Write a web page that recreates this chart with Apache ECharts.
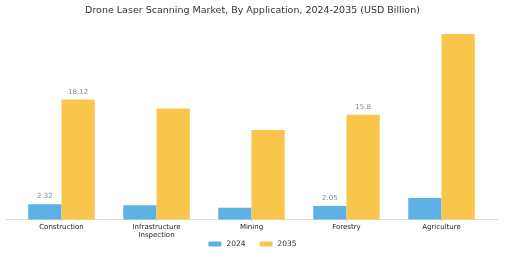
<!DOCTYPE html>
<html>
<head>
<meta charset="utf-8">
<script src="https://cdn.jsdelivr.net/npm/echarts@6/dist/echarts.min.js"></script>
<style>
  html, body { margin: 0; padding: 0; background: #fff; }
  #chart { width: 505px; height: 253px; }
</style>
</head>
<body>
<div id="chart"></div>
<script>
const categories = ['Construction', 'Infrastructure\nInspection', 'Mining', 'Forestry', 'Agriculture']
const values2024 = [2.32, 2.14, 1.78, 2.05, 3.24]
const values2035 = [18.12, 16.75, 13.5, 15.8, 28.0]
// only these bars carry a value label in the original
const labeled2024 = [0, 3]
const labeled2035 = [0, 3]

const withLabels = (vals, shown) => vals.map((v, i) => ({
  value: v,
  label: { show: shown.includes(i) }
}))

const labelStyle = {
  position: 'top',
  distance: 4,
  color: '#888',
  fontSize: 7,
  fontFamily: 'DejaVu Sans'
}

const chart = echarts.init(document.getElementById('chart'))
chart.setOption({
  animation: false,
  title: {
    text: 'Drone Laser Scanning Market, By Application, 2024-2035 (USD Billion)',
    left: 'center',
    top: 1,
    textStyle: { fontSize: 9.5, fontWeight: 'normal', color: '#333', fontFamily: 'DejaVu Sans' }
  },
  legend: {
    top: 235,
    left: 'center',
    itemWidth: 13,
    itemHeight: 5,
    itemGap: 14,
    textStyle: { fontSize: 7.5, color: '#333', fontFamily: 'DejaVu Sans' },
    data: ['2024', '2035']
  },
  grid: [
    { left: 14, right: 16, top: 30, bottom: 33.5 },
    // wider grid only to draw the baseline past the outer bars
    { left: 6, right: 7, top: 30, bottom: 33.5 }
  ],
  xAxis: [
    {
      type: 'category',
      data: categories,
      gridIndex: 0,
      axisLine: { show: false },
      axisTick: { show: true, alignWithLabel: true, length: 2, lineStyle: { color: '#ccc' } },
      axisLabel: { fontSize: 7, color: '#222', margin: 4, lineHeight: 8, fontFamily: 'DejaVu Sans', interval: 0 }
    },
    {
      type: 'value',
      gridIndex: 1,
      min: 0,
      max: 1,
      axisLine: { show: true, lineStyle: { color: '#ddd' } },
      axisTick: { show: false },
      axisLabel: { show: false },
      splitLine: { show: false }
    }
  ],
  yAxis: [
    { type: 'value', gridIndex: 0, min: 0, max: 28.6, show: false },
    { type: 'value', gridIndex: 1, min: 0, max: 1, show: false }
  ],
  series: [
    {
      name: '2024',
      type: 'bar',
      data: withLabels(values2024, labeled2024),
      itemStyle: { color: '#5DB1E4' },
      label: labelStyle,
      barGap: '0%',
      barCategoryGap: '30%'
    },
    {
      name: '2035',
      type: 'bar',
      data: withLabels(values2035, labeled2035),
      itemStyle: { color: '#FAC54B' },
      label: labelStyle
    }
  ]
})
</script>
</body>
</html>
